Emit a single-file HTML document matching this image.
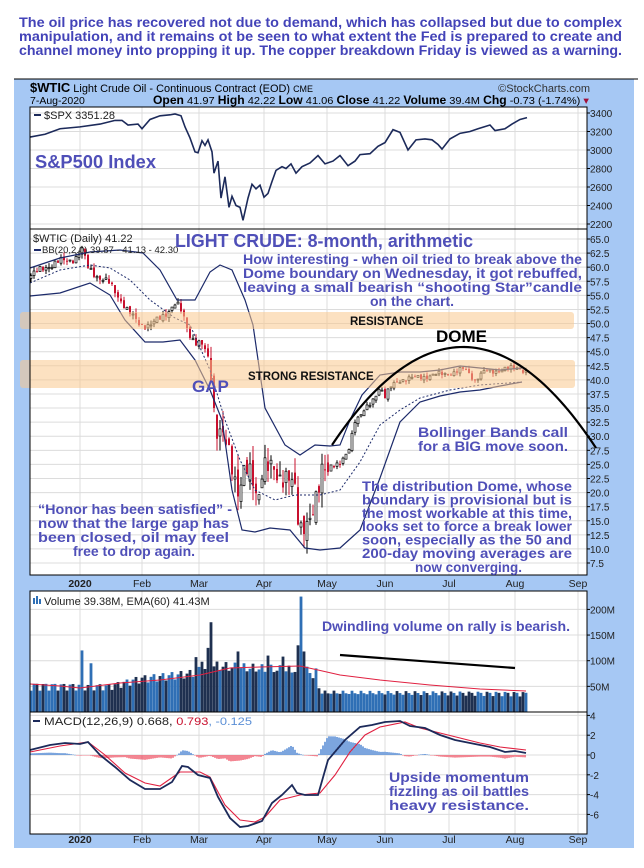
<!DOCTYPE html>
<html><head><meta charset="utf-8">
<style>
html,body{margin:0;padding:0;background:#fff;width:644px;height:868px;overflow:hidden}
svg{display:block}
text{font-family:"Liberation Sans",Arial,sans-serif}
</style></head>
<body>
<svg id="s" width="644" height="868" xmlns="http://www.w3.org/2000/svg">
<g font-weight="bold" font-size="13.4" fill="#4343b8">
<text x="19" y="27" textLength="603" lengthAdjust="spacingAndGlyphs">The oil price has recovered not due to demand, which has collapsed but due to complex</text>
<text x="19" y="41" textLength="603" lengthAdjust="spacingAndGlyphs">manipulation, and it remains ot be seen to what extent the Fed is prepared to create and</text>
<text x="19" y="55" textLength="603" lengthAdjust="spacingAndGlyphs">channel money into propping it up. The copper breakdown Friday is viewed as a warning.</text>
</g>
<rect x="14" y="79" width="620" height="769" fill="#a6c8f4"/>
<line x1="14" y1="79" x2="638" y2="79" stroke="#000" stroke-width="1"/>
<text x="30" y="92" font-size="11" textLength="283" lengthAdjust="spacingAndGlyphs"><tspan font-weight="bold" font-size="13">$WTIC</tspan> Light Crude Oil - Continuous Contract (EOD) <tspan font-size="9">CME</tspan></text>
<text x="590" y="92" font-size="11" text-anchor="end" fill="#333">©StockCharts.com</text>
<text x="30" y="104" font-size="10.5">7-Aug-2020</text>
<text x="153" y="104" font-size="10.5" textLength="436" lengthAdjust="spacingAndGlyphs"><tspan font-weight="bold" font-size="11.5">Open</tspan> 41.97 <tspan font-weight="bold" font-size="11.5">High</tspan> 42.22 <tspan font-weight="bold" font-size="11.5">Low</tspan> 41.06 <tspan font-weight="bold" font-size="11.5">Close</tspan> 41.22 <tspan font-weight="bold" font-size="11.5">Volume</tspan> 39.4M <tspan font-weight="bold" font-size="11.5">Chg</tspan> -0.73 (-1.74%) <tspan fill="#a0103a">▾</tspan></text>
<g id="panels"></g>
</svg>
<script>
(function(){
var NS="http://www.w3.org/2000/svg",P=document.getElementById('panels');
function el(t,a,txt){var e=document.createElementNS(NS,t);for(var k in a)e.setAttribute(k,a[k]);if(txt!=null)e.textContent=txt;P.appendChild(e);return e;}
var L=30,R=587;
var months=[[80,'2020',1],[142,'Feb'],[199,'Mar'],[264,'Apr'],[327,'May'],[385,'Jun'],[449,'Jul'],[515,'Aug'],[578,'Sep']];
function panel(t,b,ticks){
 el('rect',{x:L,y:t,width:R-L,height:b-t,fill:'#fff'});
 ticks.forEach(function(k){ if(k[0]>t&&k[0]<b) el('line',{x1:L,x2:R,y1:k[0],y2:k[0],stroke:'#dcdcdc','stroke-width':1});});
 months.forEach(function(m){el('line',{x1:m[0],x2:m[0],y1:t,y2:b,stroke:'#dcdcdc','stroke-width':1});});
 ticks.forEach(function(k){ el('line',{x1:R,x2:R+3,y1:k[0],y2:k[0],stroke:'#000'}); el('text',{x:R+3,y:k[0]+4,'font-size':10,fill:'#222'},k[1]);});
}
function frame(t,b){el('rect',{x:L,y:t,width:R-L,height:b-t,fill:'none',stroke:'#000','stroke-width':1});}
function xlabels(y){months.forEach(function(m){el('text',{x:m[0],y:y,'font-size':10.5,'text-anchor':'middle','font-weight':m[2]?'bold':'normal',fill:'#222'},m[1]);});}
function poly(pts,a){a.points=pts.map(function(p){return p[0]+','+p[1]}).join(' ');a.fill='none';el('polyline',a);}
function interp(k,x){for(var i=1;i<k.length;i++){if(x<=k[i][0]){var a=k[i-1],b=k[i];return a[1]+(b[1]-a[1])*(x-a[0])/(b[0]-a[0]);}}return k[k.length-1][1];}
function T(x,y,s,w,t,extra){var a={x:x,y:y,'font-size':s,'font-weight':'bold',fill:'#4f4fb8'};if(w){a.textLength=w;a.lengthAdjust='spacingAndGlyphs';}for(var k in extra)a[k]=extra[k];el('text',a,t);}

/* SPX */
var st=[];for(var v=3400;v>=2200;v-=200)st.push([113+(3400-v)*0.0925,''+v]);
panel(107,229,st);
var spx=[[30,3140],[45,3170],[60,3230],[80,3250],[100,3280],[115,3320],[122,3320],[128,3270],[138,3280],[142,3230],[150,3330],[160,3370],[170,3380],[175,3390],[181,3370],[185,3250],[190,3130],[195,2980],[198,2970],[202,3100],[205,3050],[208,3110],[212,2980],[214,2750],[218,2880],[221,2480],[225,2710],[229,2380],[232,2500],[236,2400],[240,2380],[243,2240],[248,2480],[252,2630],[256,2580],[260,2620],[264,2490],[268,2530],[272,2660],[276,2780],[282,2820],[286,2800],[291,2850],[296,2750],[302,2820],[310,2860],[318,2940],[325,2850],[333,2880],[340,2940],[348,2830],[355,2880],[360,2950],[370,2960],[378,3040],[385,3080],[393,3220],[400,3190],[408,3000],[416,3110],[425,3120],[432,3110],[438,3060],[442,3010],[450,3120],[460,3180],[470,3200],[478,3230],[490,3270],[495,3210],[505,3230],[512,3280],[520,3330],[527,3350]];
poly(spx.map(function(p){return [p[0],113+(3400-p[1])*0.0925]}),{stroke:'#1c2a5a','stroke-width':1.6});
frame(107,229);
el('rect',{x:34,y:114,width:7,height:2,fill:'#1c2a5a'});
el('text',{x:44,y:119,'font-size':11,fill:'#222'},'$SPX 3351.28');
T(35,168,18,121,'S&P500 Index');

/* MAIN */
function py(p){return 239+(65-p)*5.635;}
var mt=[];for(var i=0;i<=23;i++){var p=65-i*2.5;mt.push([py(p),p.toFixed(1)]);}
panel(229,575,mt);
var key=[[31,58.5],[45,60],[60,61],[75,61.5],[82,63],[88,60],[100,58],[110,57],[118,55],[128,52],[140,50],[150,49.5],[160,51],[170,52.5],[176,53.5],[182,52],[190,48],[196,46.5],[203,46],[208,44],[212,41],[215,32],[222,30],[230,26],[238,21],[245,24],[252,22],[258,19],[263,26],[270,24],[278,22],[285,24],[290,23],[296,19],[299,12],[303,14],[308,16],[313,17],[318,19],[323,24],[330,25],[340,25],[348,27],[355,33],[362,34],[372,36],[380,39],[385,37],[392,39],[400,40],[420,40.5],[440,41],[455,41.3],[465,42],[475,40],[485,41.5],[500,41.7],[510,42],[518,42.3],[526,41.3]];
var days=[],prev=58;
for(var x=31,i=0;x<=526;x+=3,i++){
 var amp=(x>210&&x<330)?2.6:(x>330?0.6:0.8);
 var c=interp(key,x)+amp*Math.sin(i*1.7)*Math.cos(i*0.9);
 var o=prev+ (x>210&&x<330?amp*0.5*Math.sin(i*2.3):0.2*Math.sin(i*3.1));
 var hi=Math.max(o,c)+amp*0.5*(1+Math.sin(i*1.3)),lo=Math.min(o,c)-amp*0.5*(1+Math.cos(i*1.1));
 if(x==299){lo=7;}
 days.push({x:x,o:o,c:c,h:hi,l:lo});prev=c;
}
days.forEach(function(d){
 var up=d.c>=d.o,col=up?'#000':'#c8102e';
 el('line',{x1:d.x,x2:d.x,y1:py(d.h),y2:Math.min(py(d.l),574),stroke:col,'stroke-width':1});
 var y1=py(Math.max(d.o,d.c)),h=Math.max(1,Math.abs(py(d.o)-py(d.c)));
 el('rect',{x:d.x-1,y:y1,width:2,height:h,fill:up?'#fff':'#c8102e',stroke:col,'stroke-width':up?0.7:0});
});
var ub=[[30,268],[60,258],[90,252],[120,250],[143,253],[160,270],[177,300],[195,300],[210,272],[220,265],[232,270],[245,300],[253,325],[265,408],[285,445],[300,455],[315,445],[330,446],[340,445],[350,420],[362,395],[380,375],[400,372],[420,372],[440,370],[460,366],[480,368],[500,370],[522,368]];
var lb=[[30,296],[60,293],[90,283],[110,295],[125,320],[145,342],[163,342],[180,340],[195,360],[210,390],[222,420],[232,490],[242,530],[255,532],[270,528],[290,530],[305,548],[320,550],[340,548],[360,530],[380,478],[400,422],[420,402],[440,396],[460,392],[480,390],[500,386],[522,382]];
var ma=[[30,283],[60,270],[90,265],[110,268],[130,280],[150,300],[175,318],[190,325],[210,370],[225,420],[240,460],[255,490],[275,500],[295,495],[320,495],[340,490],[360,462],[380,425],[400,410],[420,398],[450,390],[480,385],[522,382]];
poly(ub,{stroke:'#1c2a6a','stroke-width':1.2});
poly(lb,{stroke:'#1c2a6a','stroke-width':1.2});
poly(ma,{stroke:'#1c2a6a','stroke-width':1,'stroke-dasharray':'2,2'});
el('rect',{x:20,y:312,width:554,height:17,fill:'#f9c88e','fill-opacity':0.55,rx:3});
el('rect',{x:20,y:360,width:555,height:28,fill:'#f9c88e','fill-opacity':0.55,rx:3});
var dome=[];for(var x=332;x<=598;x+=4){dome.push([x,347+0.00571*(x-463)*(x-463)]);}
poly(dome,{stroke:'#000','stroke-width':2.2});
frame(229,575);
el('text',{x:33,y:242,'font-size':11,fill:'#222'},'$WTIC (Daily) 41.22');
el('rect',{x:34,y:249,width:7,height:2,fill:'#1c2a6a'});
el('text',{x:42,y:253,'font-size':9.5,fill:'#222'},'BB(20,2.0) 39.87 - 41.13 - 42.30');
T(175,247,18,298,'LIGHT CRUDE: 8-month, arithmetic');
T(243,264,14,339,'How interesting - when oil tried to break above the');
T(243,278,14,339,'Dome boundary on Wednesday, it got rebuffed,');
T(243,292,14,339,'leaving a small bearish “shooting Star”candle');
T(370,306,14,84,'on the chart.');
el('text',{x:350,y:325,'font-size':11.5,'font-weight':'bold',fill:'#111'},'RESISTANCE');
el('text',{x:436,y:342,'font-size':17,'font-weight':'bold',fill:'#000'},'DOME');
el('text',{x:248,y:380,'font-size':11.5,'font-weight':'bold',fill:'#111'},'STRONG RESISTANCE');
T(192,392,17,null,'GAP');
T(418,437,14,150,'Bollinger Bands call');
T(418,451,14,150,'for a BIG move soon.');
var g2=['The distribution Dome, whose','boundary is provisional but is','the most workable at this time,','looks set to force a break lower','soon, especially as the 50 and','200-day moving averages are'];
g2.forEach(function(t,i){T(362,491+i*13.4,13.5,210,t);});
T(415,572,13.5,107,'now converging.');
T(38,514,13.5,194,'“Honor has been satisfied” -');
T(38,528,13.5,191,'now that the large gap has');
T(38,542,13.5,191,'been closed, oil may feel');
T(73,556,13.5,122,'free to drop again.');
xlabels(587);

/* VOLUME */
function vy(v){return 712-v*0.513;}
panel(591,712,[[vy(200),'200M'],[vy(150),'150M'],[vy(100),'100M'],[vy(50),'50M']]);
var vk=[[30,52],[110,50],[140,65],[190,75],[215,90],[260,85],[310,80],[322,38],[526,36]];
var spikes={83:120,92:95,197:107,203:98,212:175,209:125,239:118,245:95,268:110,283:108,299:130,302:225,305:118,317:85};
days.forEach(function(d,i){
 var v=interp(vk,d.x)*(0.8+0.3*Math.abs(Math.sin(i*2.1)));
 for(var s in spikes){if(Math.abs(d.x-s)<1.6)v=spikes[s];}
 el('rect',{x:d.x-1.4,y:vy(v),width:2.8,height:712-vy(v),fill:(d.c<d.o)?'#1f3050':'#2f6fb5'});
});
poly([[30,684],[60,686],[80,688],[120,683],[160,680],[200,675],[230,668],[260,667],[300,666],[318,670],[340,675],[380,680],[430,685],[480,689],[526,691]],{stroke:'#e02040','stroke-width':1});
poly([[340,655],[515,668]],{stroke:'#000','stroke-width':2.2});
T(322,631,13.5,248,'Dwindling volume on rally is bearish.');
el('rect',{x:33,y:598,width:2,height:6,fill:'#2f6fb5'});el('rect',{x:36,y:596,width:2,height:8,fill:'#2f6fb5'});el('rect',{x:39,y:599,width:2,height:5,fill:'#2f6fb5'});
el('text',{x:44,y:605,'font-size':11,fill:'#222'},'Volume 39.38M, EMA(60) 41.43M');

/* MACD */
function my(v){return 755-v*9.9;}
panel(712,834,[[my(4),'4'],[my(2),'2'],[my(0),'0'],[my(-2),'-2'],[my(-4),'-4'],[my(-6),'-6']]);
var mc=[[30,750],[50,745],[65,743],[80,744],[88,742],[100,755],[115,767],[130,780],[145,789],[160,789],[172,782],[182,766],[188,767],[198,775],[210,778],[218,797],[230,818],[240,827],[248,826],[262,821],[272,803],[282,795],[292,785],[297,793],[305,795],[318,795],[328,760],[345,740],[360,727],[372,725],[385,722],[400,721],[410,726],[425,728],[440,735],[455,740],[470,743],[490,747],[505,752],[515,751],[526,753]];
var sg=[[30,752],[60,746],[88,742],[105,755],[125,773],[145,783],[160,786],[180,772],[200,772],[210,777],[225,805],[240,820],[255,822],[265,817],[280,800],[300,795],[320,793],[335,775],[350,752],[365,735],[380,727],[405,722],[420,728],[440,733],[460,738],[480,743],[500,747],[526,750]];
for(var x=31;x<=526;x+=2){var d=(interp(sg,x)-interp(mc,x))*0.8;
 el('rect',{x:x-0.8,y:d>0?755-d:755,width:1.6,height:Math.max(0.5,Math.abs(d)),fill:d>0?'#5b8fd6':'#f06878'});}
poly(sg,{stroke:'#e02040','stroke-width':1.1});
poly(mc,{stroke:'#1c2a5a','stroke-width':1.8});
frame(712,834);frame(591,712);
el('rect',{x:33,y:720,width:7,height:2,fill:'#1c2a5a'});
var mt2=el('text',{x:44,y:725,'font-size':11,fill:'#222',textLength:208,lengthAdjust:'spacingAndGlyphs'});
mt2.innerHTML='MACD(12,26,9) 0.668, <tspan fill="#c8102e">0.793</tspan><tspan fill="#5b8fd6">, -0.125</tspan>';
T(389,782,14,140,'Upside  momentum');
T(389,796,14,140,'fizzling as oil battles');
T(389,810,14,140,'heavy   resistance.');
xlabels(843);
})();
</script>
</body></html>
